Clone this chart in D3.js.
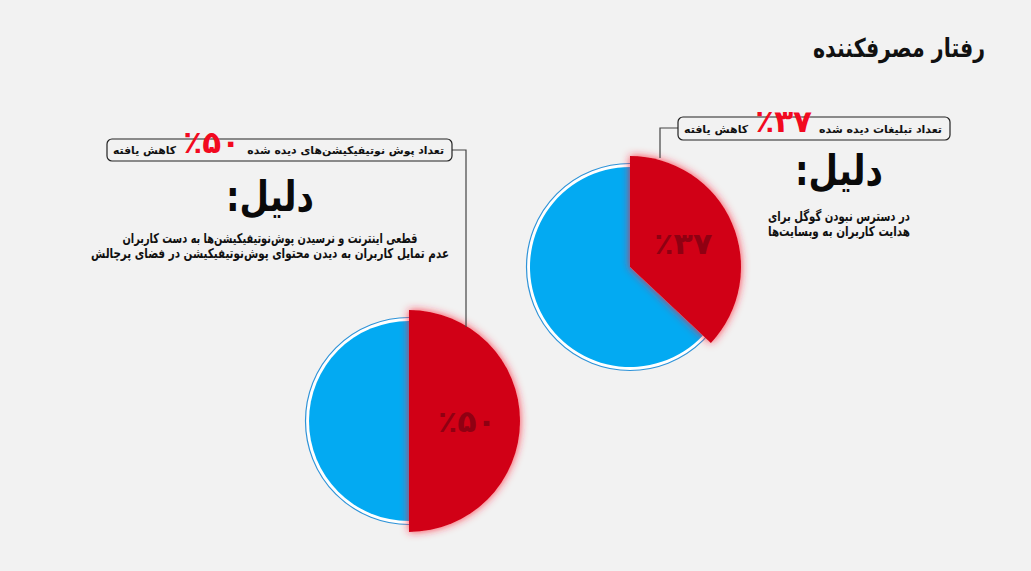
<!DOCTYPE html>
<html>
<head>
<meta charset="utf-8">
<script src="https://cdn.jsdelivr.net/npm/d3@7"></script>
<style>
  body { margin: 0; background: #f2f2f2; }
  svg text { font-family: "DejaVu Sans", sans-serif; }
</style>
</head>
<body>
<div id="chart"></div>
<script>
// chart data
const title = "رفتار مصرفکننده";
const shares = [37, 50];
const metricLabels = ["تعداد تبلیغات دیده شده", "تعداد پوش نوتیفیکیشن‌های دیده شده"];
const changeLabel = "کاهش یافته";
const reasonTitle = "دلیل:";
const reasons = [
  ["در دسترس نبودن گوگل برای", "هدایت کاربران به وبسایت‌ها"],
  ["قطعی اینترنت و نرسیدن پوش‌نوتیفیکیشن‌ها به دست کاربران", "عدم تمایل کاربران به دیدن محتوای پوش‌نوتیفیکیشن در فضای پرچالش"]
];

// layout for each pie (positions and text widths only)
const layout = [
  { cx: 630, cy: 267, box: [678, 117, 950, 140], link: [[678, 128], [660, 128], [660, 158]],
    reasonX: 839, reasonY: 185, bodyY: 221, bodyW: [142, 142] },
  { cx: 409, cy: 421, box: [107, 139, 452, 161], link: [[452, 150], [466, 150], [466, 327]],
    reasonX: 270, reasonY: 211, bodyY: 243, bodyW: [295, 358] }
];

const faDigits = v => "٪" + String(v).replace(/\d/g, d => "۰۱۲۳۴۵۶۷۸۹"[d]);

const width = 1031, height = 571;
const svg = d3.select("#chart").append("svg")
  .attr("width", width)
  .attr("height", height);

svg.append("rect").attr("width", width).attr("height", height).attr("fill", "#f2f2f2");

// red glow
const glow = svg.append("defs").append("filter")
  .attr("id", "glow")
  .attr("x", "-30%").attr("y", "-30%").attr("width", "160%").attr("height", "160%");
glow.append("feDropShadow")
  .attr("dx", 0).attr("dy", 0)
  .attr("stdDeviation", 4.5)
  .attr("flood-color", "#ff2038")
  .attr("flood-opacity", 0.9);

// text squeezed into [right - w, right]
function fitText(str, right, w, y, size, fill, dir) {
  return svg.append("text")
    .attr("direction", dir || "rtl")
    .attr("text-anchor", "middle")
    .attr("x", right - w / 2)
    .attr("y", y)
    .attr("font-size", size)
    .attr("font-weight", "bold")
    .attr("fill", fill)
    .attr("textLength", w)
    .attr("lengthAdjust", "spacingAndGlyphs")
    .text(str);
}

function plainText(str, y, size, fill, dir) {
  return svg.append("text")
    .attr("direction", dir || "rtl")
    .attr("text-anchor", "middle")
    .attr("y", y)
    .attr("font-size", size)
    .attr("font-weight", "bold")
    .attr("fill", fill)
    .text(str);
}
const len = el => el.node().getComputedTextLength();

fitText(title, 985, 172, 57, 26, "#111");

const pie = d3.pie().sort(null).value(d => d);
const blueArc = d3.arc().innerRadius(0).outerRadius(100);
const redArc = d3.arc().innerRadius(0).outerRadius(111);
const labelArc = d3.arc().innerRadius(58).outerRadius(58);

shares.forEach(function (share, i) {
  const L = layout[i];
  const slices = pie([share, 100 - share]);
  const g = svg.append("g").attr("transform", "translate(" + L.cx + "," + L.cy + ")");

  // outer ring
  g.append("circle")
    .attr("r", 103.5)
    .attr("fill", "#ffffff")
    .attr("stroke", "#2e93d8")
    .attr("stroke-width", 1.2);

  g.append("path")
    .attr("d", blueArc(slices[1]))
    .attr("fill", "#03aaf2");

  g.append("path")
    .attr("d", redArc(slices[0]))
    .attr("fill", "#d10016")
    .attr("filter", "url(#glow)");

  const c = labelArc.centroid(slices[0]);
  g.append("text")
    .attr("transform", "translate(" + c + ")")
    .attr("direction", "ltr")
    .attr("text-anchor", "middle")
    .attr("dy", "0.35em")
    .attr("font-size", 30)
    .attr("font-weight", "bold")
    .attr("fill", "#8f0012")
    .attr("textLength", 58)
    .attr("lengthAdjust", "spacingAndGlyphs")
    .text(faDigits(share));

  // connector
  svg.append("path")
    .attr("d", d3.line()(L.link))
    .attr("fill", "none")
    .attr("stroke", "#444")
    .attr("stroke-width", 1.2);

  // callout box
  const [x0, y0, x1, y1] = L.box;
  svg.append("rect")
    .attr("x", x0).attr("y", y0)
    .attr("width", x1 - x0).attr("height", y1 - y0)
    .attr("rx", 5)
    .attr("fill", "none")
    .attr("stroke", "#222")
    .attr("stroke-width", 1.2);

  const base = y1 - 7;
  const m = plainText(metricLabels[i], base, 12, "#111");
  const ch = plainText(changeLabel, base, 12, "#111");
  const big = plainText(faDigits(share), base - 1, 31, "#f20a1f", "ltr");
  const bw = len(big);
  const room = (x1 - x0) - bw - 28;
  const k = Math.max(0.82, Math.min(1, room / (len(m) + len(ch))));
  m.attr("font-size", 12 * k);
  ch.attr("font-size", 12 * k);
  const mw = len(m), cw = len(ch);
  m.attr("x", x1 - 8 - mw / 2);
  ch.attr("x", x0 + 6 + cw / 2);

  // red figure between the two labels
  const gapL = x0 + 6 + cw + 7, gapR = x1 - 8 - mw - 7;
  if (bw > gapR - gapL) big.attr("font-size", 31 * (gapR - gapL) / bw);
  big.attr("x", (gapL + gapR) / 2);

  // reason
  fitText(reasonTitle, L.reasonX + 44, 88, L.reasonY, 42, "#0a0a0a");

  reasons[i].forEach(function (line, j) {
    const w = L.bodyW[j];
    fitText(line, L.reasonX + w / 2, w, L.bodyY + j * 14.5, 13.5, "#111");
  });
});
</script>
</body>
</html>
